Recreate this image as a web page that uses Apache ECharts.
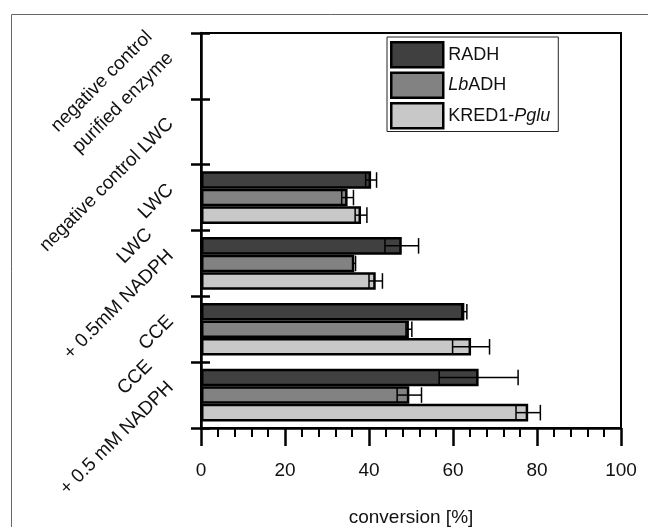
<!DOCTYPE html>
<html><head><meta charset="utf-8">
<script src="https://cdn.jsdelivr.net/npm/echarts@6/dist/echarts.min.js"></script>
<style>html,body{margin:0;padding:0;background:#fff}#c{width:648px;height:527px}</style>
</head><body><div id="c"></div>
<script>
const categories = [
  'negative control\npurified enzyme',
  'negative control LWC',
  'LWC',
  'LWC\n+ 0.5mM NADPH',
  'CCE',
  'CCE\n+ 0.5 mM NADPH'
];
const seriesNames = ['RADH', 'LbADH', 'KRED1-Pglu'];
const radh = [null, null, 40.5, 47.8, 62.7, 66.1];
const radhErr = [null, null, 1.3, 4.0, 0.6, 9.4];
const lbadh = [null, null, 34.9, 36.5, 49.5, 49.6];
const lbadhErr = [null, null, 1.4, 0.3, 0.7, 2.9];
const kred = [null, null, 38.1, 41.6, 64.3, 77.9];
const kredErr = [null, null, 1.4, 1.6, 4.4, 2.9];
const xTicks = [0, 20, 40, 60, 80, 100];

const colors = ['#404040', '#828282', '#c8c8c8'];
const values = [radh, lbadh, kred];
const errs = [radhErr, lbadhErr, kredErr];
const FONT = "'Liberation Sans', Arial, sans-serif";
const GAP = 0.2;

const chart = echarts.init(document.getElementById('c'), null, {renderer: 'canvas'});

const barSeries = values.map((v, k) => ({
  name: seriesNames[k],
  type: 'bar',
  data: v.map(x => x === null ? '-' : x),
  barGap: '0%',
  barCategoryGap: (GAP * 100) + '%',
  itemStyle: {color: colors[k], borderColor: '#000', borderWidth: 2.5},
  z: 2
}));

const errSeries = values.map((v, k) => ({
  type: 'custom',
  name: seriesNames[k] + ' err',
  data: v.map((x, i) => x === null ? null : [i, x, errs[k][i]]).filter(d => d),
  encode: {x: 1, y: 0},
  z: 5,
  renderItem: function (params, api) {
    const cat = api.value(0), val = api.value(1), e = api.value(2);
    const band = api.size([0, 1])[1];
    const groupH = band * (1 - GAP);
    const barH = groupH / 3;
    const c = api.coord([val, cat]);
    const y = c[1] - groupH / 2 + barH * (k + 0.5);
    const lo = api.coord([val - e, cat])[0];
    const hi = api.coord([val + e, cat])[0];
    const h = barH / 2 - 1;
    const st = {stroke: '#000', lineWidth: 1.5};
    return {type: 'group', children: [
      {type: 'line', shape: {x1: lo, y1: y, x2: hi, y2: y}, style: st},
      {type: 'line', shape: {x1: lo, y1: y - h, x2: lo, y2: y + h}, style: st},
      {type: 'line', shape: {x1: hi, y1: y - h, x2: hi, y2: y + h}, style: st}
    ]};
  }
}));

const legendFmt = {
  'RADH': '{n|RADH}',
  'LbADH': '{i|Lb}{n|ADH}',
  'KRED1-Pglu': '{n|KRED1-}{i|Pglu}'
};

chart.setOption({
  animation: false,
  backgroundColor: '#fff',
  textStyle: {fontFamily: FONT},
  graphic: [{
    type: 'rect', left: 9, top: 12, silent: true,
    shape: {width: 700, height: 600},
    style: {fill: 'none', stroke: '#666', lineWidth: 1}
  }],
  grid: {left: 201, right: 27, top: 33, bottom: 99, show: true, borderColor: '#000', borderWidth: 2,
    backgroundColor: 'transparent', containLabel: false, outerBoundsMode: 'none'},
  legend: {
    left: 387, top: 37, orient: 'vertical',
    icon: 'rect',
    itemWidth: 52, itemHeight: 25, itemGap: 3,
    padding: [4, 8, 2, 3],
    borderColor: '#222', borderWidth: 1,
    data: seriesNames,
    formatter: n => legendFmt[n],
    textStyle: {
      fontSize: 18, color: '#111', fontFamily: FONT,
      rich: {
        n: {fontSize: 18, fontFamily: FONT, color: '#111'},
        i: {fontSize: 18, fontFamily: FONT, color: '#111', fontStyle: 'italic'}
      }
    },
    itemStyle: {borderColor: '#000', borderWidth: 2.5}
  },
  xAxis: [{
    type: 'value', min: 0, max: 100, interval: 20,
    axisLine: {show: true, lineStyle: {color: '#000', width: 2.5}},
    axisTick: {show: true, length: 18, lineStyle: {color: '#000', width: 2.5}},
    minorTick: {show: true, splitNumber: 5, length: 9, lineStyle: {color: '#000', width: 2}},
    splitLine: {show: false},
    axisLabel: {fontSize: 19, color: '#111', margin: 33, fontFamily: FONT,
      formatter: v => xTicks.indexOf(v) >= 0 ? String(v) : ''},
    name: 'conversion [%]', nameLocation: 'middle', nameGap: 80,
    nameTextStyle: {fontSize: 19, color: '#111', fontFamily: FONT}
  }],
  yAxis: [{
    type: 'category', inverse: true, data: categories,
    axisLine: {show: true, lineStyle: {color: '#000', width: 2.5}},
    axisTick: {show: true, length: 10, lineStyle: {color: '#000', width: 2.5}},
    axisLabel: {
      rotate: 45, fontSize: 19, color: '#111', fontFamily: FONT,
      margin: 20, verticalAlign: 'bottom', align: 'right', lineHeight: 30, interval: 0
    },
    splitLine: {show: false}
  }, {
    type: 'category', inverse: true, data: categories, position: 'left',
    axisLine: {show: false},
    axisTick: {show: true, inside: true, length: 9, lineStyle: {color: '#000', width: 2.5}},
    axisLabel: {show: false},
    splitLine: {show: false}
  }],
  series: barSeries.concat(errSeries)
});
</script>
</body></html>
